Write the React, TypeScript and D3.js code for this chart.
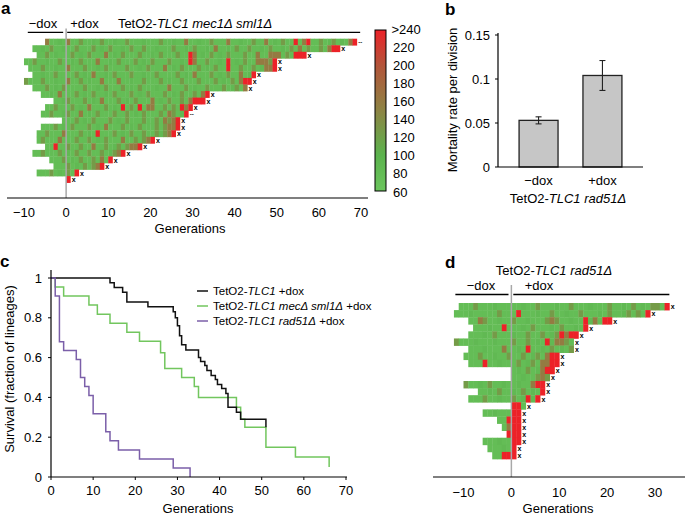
import React from 'react';
import * as d3 from 'd3';

const FONT = "'Liberation Sans', Arial, Helvetica, sans-serif";

// ---------- Panel a : TetO2-TLC1 mec1Δ sml1Δ lineages ----------
const aStart = [-5, -8, -7, -10, -9, -8, -10, -8, -6, -3, -5, -6, -1, -6, -7, -7, -5, -8, -4, -3, -7, 0];
const aEnd = [69, 65, 57, 50, 50, 45, 44, 43, 34, 33, 30, 29, 27, 27, 26, 21, 18, 14, 11, 9, 3, 1];
const aMarks = ['--', 'x', 'x', 'x', 'x', 'x', 'x', 'x', 'x', 'x', 'x', '--', 'x', 'x', 'x', 'x', 'x', 'x', 'x', 'x', 'x', 'x'];
const aCells = [
  '-5b -2g 0b 3o 6g 8o 11g 14o 18g 22o 25g 28b 31g 34o 38b 41g 44o 47b 49g 51o 54r 56b 57r 60o 62g 63o 65g 67b 68r',
  '-6g -4o -1g 2o 6o 8g 10o 13g 15o 18o 21g 25o 28g 30o 33g 35b 38g 40o 43o 46g 48o 51g 53o 55b 57o 60o 62b 63r 64r',
  '-5o -3g 1o 3g 5o 9b 11g 13o 17o 20g 22o 26o 29r 30b 32g 34o 36g 38o 42o 45b 48b 49b 50b 52o 54r 55r 56r',
  '-8o -5g -2o 1g 3o 7b 10g 12o 16o 18g 20o 24o 27g 29r 30b 33o 36g 38r 40g 42o 45b 46b 47b 48o 49r',
  '-6o -3g 0b 4o 7g 9o 14o 17g 19o 23b 25g 27o 31o 33g 35o 38r 41o 44o 46g 47b 48b 49r',
  '-6g -3o 2o 4g 6b 9g 11o 15o 18g 21o 26o 28g 30b 34o 36g 38o 41b 43g 44r',
  '-10o -6o -3g 0b 3o 5g 8b 12b 15g 18o 22o 24g 27o 31o 35o 37g 39o 41b 42r 43r',
  '-5o -3g -1o 4o 7g 9o 13o 15g 17o 21g 24b 28o 30g 33o 37o 39g 40o 42b',
  '-4g -2b 2o 4g 6o 9g 11o 15o 17g 19o 23o 25g 27o 30o 32b 33r',
  '-1g 0o 4o 6g 8b 12o 14g 16o 20b 22g 24o 27o 29b 30r 31r 32r',
  '-3o 1o 3g 5b 9o 11g 13r 15o 17r 19b 20b 23o 25o 27r 28b 29r',
  '-4o -1g 0o 3b 5g 7o 11o 14o 16g 18o 22o 24b 25o 27g 28r',
  '2o 4g 6o 10o 12g 14o 18o 21o 23b 24o 25b 26r',
  '-3o -1g 1o 5o 7g 9b 13o 15g 17o 21o 23o 24b 25b 26r',
  '-5o -1b 3o 5g 7r 11o 13g 15o 18o 21o 22g 23o 24b 25r',
  '-6o -2b 2o 5o 7g 9o 13b 16o 18o 19b 20r',
  '-3r 0o 3o 6b 9o 11g 12o 14o 15b 16b 17r',
  '-6o -2o 0g 2o 5o 8o 10g 11o 12b 13r',
  '-1o 1g 3o 6o 8b 10r',
  '0o 2g 4o 6o 7b 8r',
  '-4o -2g 0o 2r',
  '0r',
];
const aTicks = [-10, 0, 10, 20, 30, 40, 50, 60, 70];

// colour bar
const cbLabels = ['>240', '220', '200', '180', '160', '140', '120', '100', '80', '60'];
const cellValue: Record<string, number> = { '.': 78, g: 86, o: 126, b: 160, r: 250 };

// ---------- Panel b ----------
const bCategories = ['\u2212dox', '+dox'];
const bValues = [0.053, 0.104];
const bErrors = [0.004, 0.017];
const bTicks = [0, 0.05, 0.1, 0.15];
const bTickLabels = ['0', '0.05', '0.1', '0.15'];

// ---------- Panel c : survival ----------
const blackT = [0, 14, 15, 17, 18, 23, 29, 29.5, 30, 30.5, 31, 32, 35, 35.5, 36.5, 37, 38, 39, 39.5, 40.5, 41.5, 42, 44, 45, 51];
const blackS = [1, 0.976, 0.952, 0.929, 0.88, 0.855, 0.83, 0.8, 0.76, 0.71, 0.665, 0.638, 0.6, 0.58, 0.56, 0.535, 0.51, 0.49, 0.465, 0.445, 0.42, 0.35, 0.325, 0.29, 0.25];
const greenT = [0, 1, 3, 9, 11, 14, 18, 21, 26, 27, 31, 34, 35, 44, 45, 46, 51, 58, 66];
const greenS = [1, 0.955, 0.91, 0.864, 0.818, 0.773, 0.727, 0.682, 0.625, 0.545, 0.5, 0.455, 0.4, 0.35, 0.29, 0.25, 0.15, 0.1, 0.05];
const purpleT = [0, 1, 2, 3, 6, 7, 8, 9, 10, 13, 14, 16, 21, 29, 33];
const purpleS = [1, 0.91, 0.68, 0.636, 0.59, 0.5, 0.455, 0.41, 0.318, 0.227, 0.182, 0.136, 0.09, 0.045, 0];
const cXTicks = [0, 10, 20, 30, 40, 50, 60, 70];
const cYTicks = [0, 0.2, 0.4, 0.6, 0.8, 1];
const cYLabels = ['0', '0.2', '0.4', '0.6', '0.8', '1'];

// ---------- Panel d : TetO2-TLC1 rad51Δ lineages ----------
const dStart = [-11, -12, -9, -8, -9, -12, -9, -10, -9, 0, 0, -10, -7, -9, 0, -6, -3, -2, -1, -6, -5, -4];
const dEnd = [33, 29, 21, 16, 14, 13, 13, 10, 10, 9, 8, 7, 7, 6, 3, 2, 2, 2, 2, 2, 1, 1];
const dCells = [
  '-8o -4g 2g 5o 9g 12o 16g 20o 23g 25o 27g 29o 30o 32r',
  '-9g -3o 1r 5g 8o 11g 14o 18g 20o 23g 24o 26o 28r',
  '-7b -6o -3g 0o 3g 7o 8b 9o 12g 15r 16g 17b 19r 20r',
  '-5g -2r 2g 4o 8g 10o 13g 15r',
  '-6g -4o 0g 3o 6o 8g 9o 10r 11b 12r 13r',
  '-12o -8g -4g 0o 3o 5g 7r 8g 9b 10b 11o',
  '-6g -2b 1g 3r 6g 8o 10g 12o',
  '-7o -4g -1o 2o 4g 5o 7b 8r 9r',
  '-6r -3g 1o 3g 4o 6b 7b 8r 9r',
  '1g 3o 5g 6b 7r 8r',
  '2g 5o 6b 7o',
  '-10o -7g -5o -2g 1g 4b 5r 6r',
  '-5g -3o 0g 2o 4g 6r',
  '-6o -3g 0o 2g 3r 4g 5r',
  '0r 1r',
  '-4g 0r 1r',
  '-1r 0r 1r',
  '-1b 0r 1r',
  '-1r 0r 1r',
  '-3g 0r 1r',
  '-2g 0r',
  '-2r -1r 0r',
];
const dTicks = [-10, 0, 10, 20, 30];

const heat = d3
  .scaleLinear<string>()
  .domain([60, 100, 150, 200, 240])
  .range(['#6bc55d', '#5bb34d', '#8d8444', '#b2553a', '#ec2228'])
  .clamp(true);

const fmt = (t: number) => (t < 0 ? '\u2212' + Math.abs(t) : String(t));

function parseAccents(s: string) {
  const m = new Map<number, string>();
  s.split(' ').filter(Boolean).forEach((tok) => {
    m.set(parseInt(tok, 10), tok.slice(-1));
  });
  return m;
}

function HeatRows(props: {
  starts: number[];
  ends: number[];
  cells: string[];
  marks: string[];
  x: d3.ScaleLinear<number, number>;
  y: d3.ScaleBand<number>;
  id: string;
}) {
  const { starts, ends, cells, marks, x, y, id } = props;
  const h = y.bandwidth();
  return (
    <g>
      {starts.map((s, i) => {
        const acc = parseAccents(cells[i]);
        return (
          <g key={id + i}>
            {d3.range(s, ends[i]).map((g) => (
              <rect
                key={g}
                x={x(g)}
                y={y(i)!}
                width={x(g + 1) - x(g) + 0.35}
                height={h + 0.35}
                fill={heat(cellValue[acc.get(g) ?? '.'])}
              />
            ))}
          </g>
        );
      })}
      {starts.map((s, i) =>
        marks[i] === '--' ? (
          <text key={'m' + i} x={x(ends[i]) + 1.5} y={y(i)! + h / 2} fontSize={6} fontWeight="bold" dominantBaseline="central">
            --
          </text>
        ) : (
          <text key={'m' + i} x={x(ends[i]) + 1.3} y={y(i)! + h / 2 + 0.3} fontSize={7} fontWeight="bold" dominantBaseline="central">
            x
          </text>
        ),
      )}
    </g>
  );
}

export default function App() {
  // panel a scales
  const xA = d3.scaleLinear().domain([-10, 70]).range([24, 361]);
  const yA = d3.scaleBand<number>().domain(d3.range(aStart.length)).range([38.7, 182.6]);
  // panel d scales
  const xD = d3.scaleLinear().domain([-10, 30]).range([463.5, 655]);
  const yD = d3.scaleBand<number>().domain(d3.range(dStart.length)).range([303, 459]);
  // panel b scales
  const yB = d3.scaleLinear().domain([0, 0.15]).range([167, 35]);
  const xB = d3.scaleBand<string>().domain(bCategories).range([498, 643]).paddingInner(0.39).paddingOuter(0.33);
  // panel c scales
  const xC = d3.scaleLinear().domain([0, 70]).range([51, 346]);
  const yC = d3.scaleLinear().domain([0, 1]).range([477, 278]);
  // colour bar
  const yCb = d3.scaleLinear().domain([240, 60]).range([30, 191]);
  const yCbLab = d3.scaleLinear().domain([0, 9]).range([29, 192]);

  const line = d3
    .line<[number, number]>()
    .x((d) => xC(d[0]))
    .y((d) => yC(d[1]))
    .curve(d3.curveStepAfter);
  const pts = (T: number[], S: number[]) => T.map((t, i) => [t, S[i]] as [number, number]);

  const series = [
    { T: greenT, S: greenS, color: '#72c65e' },
    { T: blackT, S: blackS, color: '#111111' },
    { T: purpleT, S: purpleS, color: '#7b5fa9' },
  ];

  const gradStops = [60, 100, 150, 200, 240];

  return (
    <svg
      width={685}
      height={517}
      style={{ position: 'absolute', left: 0, top: 0, fontFamily: FONT }}
      fontFamily={FONT}
    >
      <defs>
        <linearGradient id="cbar" x1="0" y1="1" x2="0" y2="0">
          {gradStops.map((v) => (
            <stop key={v} offset={(v - 60) / 180} stopColor={heat(v)} />
          ))}
        </linearGradient>
      </defs>
      <rect x={0} y={0} width={685} height={517} fill="#fff" />

      {/* ================= Panel a ================= */}
      <text x={1} y={14} fontSize={17} fontWeight="bold">a</text>
      <text x={43} y={28} fontSize={13} textAnchor="middle">{'\u2212dox'}</text>
      <text x={84.5} y={28} fontSize={13} textAnchor="middle">+dox</text>
      <text x={195} y={28} fontSize={13} textAnchor="middle">
        TetO2-<tspan fontStyle="italic">TLC1 mec1Δ sml1Δ</tspan>
      </text>
      <line x1={xA(-9.1)} x2={xA(-0.7)} y1={32.3} y2={32.3} stroke="#000" strokeWidth={1.3} />
      <line x1={xA(0.25)} x2={xA(69.8)} y1={32.3} y2={32.3} stroke="#000" strokeWidth={1.3} />
      <HeatRows starts={aStart} ends={aEnd} cells={aCells} marks={aMarks} x={xA} y={yA} id="a" />
      <line x1={xA(0)} x2={xA(0)} y1={28.5} y2={198} stroke="#a8a8a8" strokeWidth={1.5} />
      <line x1={7} x2={368} y1={198} y2={198} stroke="#000" strokeWidth={1.2} />
      {aTicks.map((t) => (
        <text key={t} x={xA(t)} y={217} fontSize={13} textAnchor="middle">{fmt(t)}</text>
      ))}
      <text x={190} y={233} fontSize={13} textAnchor="middle">Generations</text>

      {/* colour bar */}
      <rect x={375} y={yCb(240)} width={11} height={yCb(60) - yCb(240)} fill="url(#cbar)" stroke="#000" strokeWidth={1} />
      {cbLabels.map((l, i) => (
        <text key={l} x={i === 0 ? 391.5 : 393} y={yCbLab(i)} fontSize={13} dominantBaseline="central">{l}</text>
      ))}

      {/* ================= Panel b ================= */}
      <text x={445} y={15} fontSize={17} fontWeight="bold">b</text>
      {bCategories.map((c, i) => {
        const cx = xB(c)! + xB.bandwidth() / 2;
        return (
          <g key={c}>
            <rect x={xB(c)!} y={yB(bValues[i])} width={xB.bandwidth()} height={yB(0) - yB(bValues[i])} fill="#c6c6c6" stroke="#222" strokeWidth={1.3} />
            <line x1={cx} x2={cx} y1={yB(bValues[i] - bErrors[i])} y2={yB(bValues[i] + bErrors[i])} stroke="#222" strokeWidth={1.1} />
            <line x1={cx - 3} x2={cx + 3} y1={yB(bValues[i] - bErrors[i])} y2={yB(bValues[i] - bErrors[i])} stroke="#222" strokeWidth={1.1} />
            <line x1={cx - 3} x2={cx + 3} y1={yB(bValues[i] + bErrors[i])} y2={yB(bValues[i] + bErrors[i])} stroke="#222" strokeWidth={1.1} />
            <text x={cx} y={185} fontSize={13} textAnchor="middle">{c}</text>
          </g>
        );
      })}
      <line x1={498} x2={498} y1={33} y2={167} stroke="#000" strokeWidth={1.2} />
      <line x1={498} x2={643} y1={167} y2={167} stroke="#000" strokeWidth={1.2} />
      {bTicks.map((t, i) => (
        <g key={t}>
          <line x1={495} x2={498} y1={yB(t)} y2={yB(t)} stroke="#000" strokeWidth={1} />
          <text x={490} y={yB(t)} fontSize={13} textAnchor="end" dominantBaseline="central">{bTickLabels[i]}</text>
        </g>
      ))}
      <text transform="translate(457,100) rotate(-90)" fontSize={13} textAnchor="middle">Mortality rate per division</text>
      <text x={568} y={203} fontSize={13} textAnchor="middle">
        TetO2-<tspan fontStyle="italic">TLC1 rad51Δ</tspan>
      </text>

      {/* ================= Panel c ================= */}
      <text x={0} y={267} fontSize={17} fontWeight="bold">c</text>
      {series.map((s, i) => (
        <path key={i} d={line(pts(s.T, s.S))!} fill="none" stroke={s.color} strokeWidth={1.5} />
      ))}
      <line x1={xC(0)} x2={xC(0)} y1={270} y2={477} stroke="#000" strokeWidth={1.2} />
      <line x1={xC(0)} x2={347} y1={477} y2={477} stroke="#000" strokeWidth={1.2} />
      {cXTicks.map((t) => (
        <g key={t}>
          <line x1={xC(t)} x2={xC(t)} y1={477} y2={480} stroke="#000" strokeWidth={1} />
          <text x={xC(t)} y={495} fontSize={13} textAnchor="middle">{t}</text>
        </g>
      ))}
      {cYTicks.map((t, i) => (
        <g key={t}>
          <line x1={xC(0) - 3} x2={xC(0)} y1={yC(t)} y2={yC(t)} stroke="#000" strokeWidth={1} />
          <text x={42} y={yC(t)} fontSize={13} textAnchor="end" dominantBaseline="central">{cYLabels[i]}</text>
        </g>
      ))}
      <text x={198} y={513} fontSize={13} textAnchor="middle">Generations</text>
      <text transform="translate(14,369) rotate(-90)" fontSize={13} textAnchor="middle">Survival (fraction of lineages)</text>
      {/* legend */}
      <line x1={197} x2={208} y1={291} y2={291} stroke="#111" strokeWidth={1.5} />
      <text x={213} y={291} fontSize={11.5} dominantBaseline="central">
        TetO2-<tspan fontStyle="italic">TLC1</tspan> +dox
      </text>
      <line x1={197} x2={208} y1={306} y2={306} stroke="#72c65e" strokeWidth={1.5} />
      <text x={213} y={306} fontSize={11.5} dominantBaseline="central">
        TetO2-<tspan fontStyle="italic">TLC1 mecΔ sml1Δ</tspan> +dox
      </text>
      <line x1={197} x2={208} y1={321} y2={321} stroke="#7b5fa9" strokeWidth={1.5} />
      <text x={213} y={321} fontSize={11.5} dominantBaseline="central">
        TetO2-<tspan fontStyle="italic">TLC1 rad51Δ</tspan> +dox
      </text>

      {/* ================= Panel d ================= */}
      <text x={445} y={268} fontSize={17} fontWeight="bold">d</text>
      <text x={554} y={275} fontSize={13} textAnchor="middle">
        TetO2-<tspan fontStyle="italic">TLC1 rad51Δ</tspan>
      </text>
      <text x={481} y={290} fontSize={13} textAnchor="middle">{'\u2212dox'}</text>
      <text x={539} y={290} fontSize={13} textAnchor="middle">+dox</text>
      <line x1={xD(-11.7)} x2={xD(-0.6)} y1={294.5} y2={294.5} stroke="#000" strokeWidth={1.3} />
      <line x1={xD(0.4)} x2={xD(33)} y1={294.5} y2={294.5} stroke="#000" strokeWidth={1.3} />
      <HeatRows starts={dStart} ends={dEnd} cells={dCells} marks={dEnd.map(() => 'x')} x={xD} y={yD} id="d" />
      <line x1={xD(0)} x2={xD(0)} y1={285} y2={477} stroke="#a8a8a8" strokeWidth={1.5} />
      <line x1={433} x2={685} y1={477} y2={477} stroke="#000" strokeWidth={1.2} />
      {dTicks.map((t) => (
        <text key={t} x={xD(t)} y={497} fontSize={13} textAnchor="middle">{fmt(t)}</text>
      ))}
      <text x={558} y={513} fontSize={13} textAnchor="middle">Generations</text>
    </svg>
  );
}
